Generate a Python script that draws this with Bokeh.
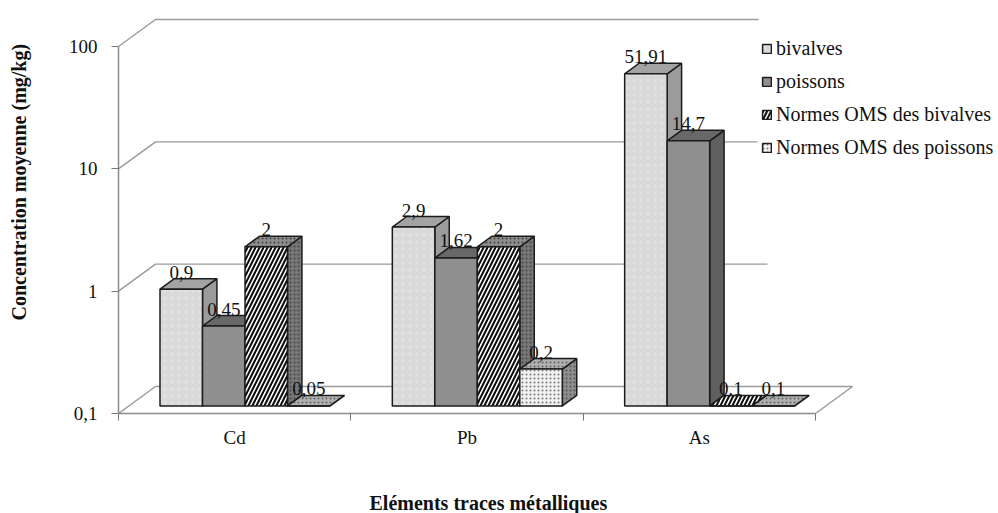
from bokeh.plotting import figure
from bokeh.embed import file_html
from bokeh.resources import INLINE
from bokeh.models import FixedTicker, Legend, LegendItem, Title
from bokeh.core.properties import value

categories = ["Cd", "Pb", "As"]
series_names = ["bivalves", "poissons", "Normes OMS des bivalves", "Normes OMS des poissons"]
bivalves = [0.9, 2.9, 51.91]
poissons = [0.45, 1.62, 14.7]
normes_bivalves = [2, 2, 0.1]
normes_poissons = [0.05, 0.2, 0.1]
label_bivalves = ["0,9", "2,9", "51,91"]
label_poissons = ["0,45", "1,62", "14,7"]
label_normes_bivalves = ["2", "2", "0,1"]
label_normes_poissons = ["0,05", "0,2", "0,1"]
y_ticks = [0.1, 1, 10, 100]
y_tick_labels = {0.1: "0,1", 1: "1", 10: "10", 100: "100"}

FONT = "Liberation Serif"
W, H = 998, 513
PX_X = 232.33          # pixels per category
PX_DEC = 122.33        # pixels per decade
LEFT, BASE = 118, 413  # frame corner in picture pixels
TOP = 0
DX, DY = 37 / PX_X, 27 / PX_DEC  # full depth of the floor, in data units
D0, D1 = 0.28, 0.67    # bar depth range
BAR_W = 42.5 / PX_X
GROUP_OFF = (159.5 - LEFT) / PX_X - D0 * DX


def project(x, v, d):
    return x + d * DX, max(v, 0.1) * 10 ** (d * DY)


p = figure(width=W, height=H, output_backend="svg", toolbar_location=None,
           y_axis_type="log",
           x_range=(0, (W - LEFT) / PX_X),
           y_range=(0.1, 100 * 10 ** ((46 - TOP) / PX_DEC)),
           min_border_left=LEFT, min_border_right=0, min_border_top=0,
           min_border_bottom=H - BASE, outline_line_color=None,
           background_fill_color="white", border_fill_color="white")
p.grid.visible = False

# Axes
ya = p.yaxis[0]
ya.ticker = FixedTicker(ticks=y_ticks, minor_ticks=[])
ya.major_label_overrides = y_tick_labels
ya.bounds = (0.1, 100)
xa = p.xaxis[0]
xa.ticker = FixedTicker(ticks=[0.5, 1.5, 2.5], minor_ticks=[0, 1, 2, 3])
xa.major_label_overrides = {0.5: "Cd", 1.5: "Pb", 2.5: "As"}
xa.bounds = (0, 3)
xa.major_tick_line_color = None
xa.minor_tick_out = 7
xa.minor_tick_in = 0
xa.minor_tick_line_color = "#777777"
xa.major_label_standoff = 6
ya.major_tick_out = 7
ya.major_tick_in = 0
ya.major_tick_line_color = "#777777"
ya.major_label_standoff = 14
for ax in (xa, ya):
    ax.axis_line_color = "#8c8c8c"
    ax.axis_line_width = 1.5
    ax.major_label_text_font = FONT
    ax.major_label_text_font_size = "19px"
    ax.major_label_text_color = "#111111"

# Walls
wall_end = {0.1: 3 + DX, 1: (767 - LEFT) / PX_X, 10: (757 - LEFT) / PX_X, 100: (758 - LEFT) / PX_X}
for t in y_ticks:
    xb, yb = project(0, t, 1)
    p.line([0, xb, wall_end[t]], [t, yb, yb], line_color="#9a9a9a", line_width=1.4)
xr, yr = project(3, 0.1, 1)
p.line([3, xr], [0.1, yr], line_color="#9a9a9a", line_width=1.4)

series_values = [bivalves, poissons, normes_bivalves, normes_poissons]
series_labels = [label_bivalves, label_poissons, label_normes_bivalves, label_normes_poissons]
front_style = [
    dict(fill_color="#d9d9d9", hatch_pattern="dot", hatch_color="#e2e2e2", hatch_scale=7),
    dict(fill_color="#8f8f8f"),
    dict(fill_color="white", hatch_pattern="right_diagonal_line", hatch_color="#111111",
         hatch_scale=8, hatch_weight=2.1),
    dict(fill_color="#f2f2f2", hatch_pattern="dot", hatch_color="#777777", hatch_scale=4),
]
top_style = [
    dict(fill_color="#a3a3a3"),
    dict(fill_color="#686868"),
    dict(fill_color="#8c8c8c", hatch_pattern="dot", hatch_color="#444444", hatch_scale=4),
    dict(fill_color="#b0b0b0", hatch_pattern="dot", hatch_color="#666666", hatch_scale=4),
]
side_style = [
    dict(fill_color="#9b9b9b"),
    dict(fill_color="#5f5f5f"),
    dict(fill_color="#777777", hatch_pattern="dot", hatch_color="#444444", hatch_scale=4),
    dict(fill_color="#8e8e8e", hatch_pattern="dot", hatch_color="#555555", hatch_scale=4),
]
OUT = dict(line_color="#1c1c1c", line_width=1.5)


def add_labels(s):
    xs, ys = [], []
    for c, v in enumerate(series_values[s]):
        x0 = c + GROUP_OFF + s * BAR_W + BAR_W / 2
        x, y = project(x0, v, D0)
        xs.append(x)
        ys.append(y)
    p.text(xs, ys, text=series_labels[s], text_align="center", text_baseline="middle",
           text_font=value(FONT), text_font_size="19px", text_color="#111111", y_offset=-17)


legend_items = []
for s, vals in enumerate(series_values):
    if s == 2:
        add_labels(2)
    fx, fy, tx, ty, sx, sy, ftx, fty = [], [], [], [], [], [], [], []
    for c, v in enumerate(vals):
        x0 = c + GROUP_OFF + s * BAR_W
        x1 = x0 + BAR_W
        a, b = project(x0, 0.1, D0), project(x1, 0.1, D0)
        e, f = project(x0, v, D0), project(x1, v, D0)
        g, h = project(x0, v, D1), project(x1, v, D1)
        i = project(x1, 0.1, D1)
        fx.append([a[0], b[0], f[0], e[0]]); fy.append([a[1], b[1], f[1], e[1]])
        if s == 2 and v <= 0.1:
            ftx.append([e[0], f[0], h[0], g[0]]); fty.append([e[1], f[1], h[1], g[1]])
        else:
            tx.append([e[0], f[0], h[0], g[0]]); ty.append([e[1], f[1], h[1], g[1]])
        sx.append([b[0], i[0], h[0], f[0]]); sy.append([b[1], i[1], h[1], f[1]])
    p.patches(sx, sy, **side_style[s], **OUT)
    p.patches(tx, ty, **top_style[s], **OUT)
    if ftx:
        p.patches(ftx, fty, **front_style[s], **OUT)
    r = p.patches(fx, fy, **front_style[s], **OUT)
    legend_items.append(LegendItem(label=series_names[s], renderers=[r]))

for s in (0, 1, 3):
    add_labels(s)

legend = Legend(items=legend_items, location=(761 - LEFT, BASE - 159), orientation="vertical",
                background_fill_alpha=0, border_line_color=None, padding=0, margin=0,
                glyph_width=11, glyph_height=11, label_standoff=4, spacing=10, label_height=22,
                label_text_font=FONT, label_text_font_size="20px", label_text_color="#111111",
                label_text_baseline="middle")
p.add_layout(legend, "center")

# spacers push the axis titles to the outer edge
p.add_layout(Title(text=" ", text_font_size="1px", standoff=36), "below")
p.add_layout(Title(text=" ", text_font_size="1px", standoff=24), "left")
t1 = Title(text="Eléments traces métalliques", text_font=FONT, text_font_style="bold",
           text_font_size="20px", text_color="#111111", align="left", offset=369 - LEFT,
           standoff=0, vertical_align="bottom")
p.add_layout(t1, "below")
t2 = Title(text="Concentration moyenne (mg/kg)", text_font=FONT, text_font_style="bold",
           text_font_size="20px", text_color="#111111", align="left", offset=BASE - 320,
           standoff=14, vertical_align="top")
p.add_layout(t2, "left")

open("out.html", "w").write(file_html(p, INLINE))
